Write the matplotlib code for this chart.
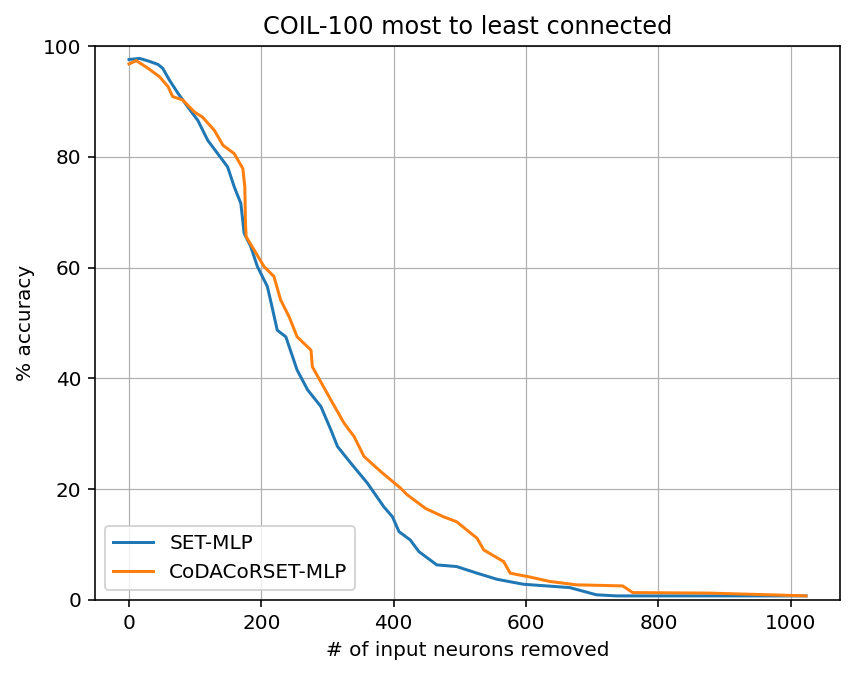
import matplotlib
matplotlib.use("Agg")
from matplotlib import pyplot as plt

# valores (neurónios removidos -> % accuracy)
set_x = [0, 16, 30, 44, 51, 61, 74, 89, 104, 119, 134, 149, 159, 169, 174, 184,
         194, 209, 215, 224, 237, 254, 270, 290, 305, 315, 335, 360, 385, 398, 408,
         425, 438, 465, 495, 526, 556, 596, 666, 706, 736, 967, 1023]
set_y = [97.6, 97.8, 97.3, 96.7, 96.0, 93.9, 91.5, 89.0, 86.6, 83.0, 80.6, 78.2,
         74.6, 71.6, 66.2, 63.8, 60.2, 56.6, 53.5, 48.7, 47.5, 41.5, 37.9, 34.9,
         30.7, 27.7, 24.7, 21.1, 16.8, 15.0, 12.3, 10.8, 8.7, 6.3, 6.0, 4.8, 3.7,
         2.8, 2.2, 0.9, 0.7, 0.7, 0.7]

coda_x = [0, 11, 29, 46, 59, 66, 81, 99, 111, 129, 142, 159, 172, 175, 176, 177,
          192, 204, 219, 229, 242, 254, 275, 277, 305, 325, 340, 355, 380, 410, 420,
          448, 475, 495, 526, 536, 566, 576, 606, 636, 676, 746, 761, 877, 967, 1023]
coda_y = [96.8, 97.4, 96.0, 94.5, 92.7, 90.9, 90.3, 88.1, 87.2, 84.8, 82.1, 80.6,
          77.9, 74.6, 68.0, 65.6, 62.6, 60.2, 58.4, 54.2, 51.1, 47.5, 45.1, 42.1,
          36.1, 31.9, 29.5, 25.9, 23.2, 20.2, 19.0, 16.5, 15.0, 14.1, 11.1, 9.0,
          6.9, 4.8, 4.1, 3.3, 2.7, 2.5, 1.3, 1.2, 0.9, 0.7]

fig, ax = plt.subplots(figsize=(865 / 144, 680 / 144), dpi=144)
fig.subplots_adjust(left=0.11, right=0.971, top=0.932, bottom=0.118)

ax.plot(set_x, set_y, color="#1f77b4", label="SET-MLP")
ax.plot(coda_x, coda_y, color="#ff7f0e", label="CoDACoRSET-MLP")

ax.set_title("COIL-100 most to least connected")
ax.set_xlabel("# of input neurons removed")
ax.set_ylabel("% accuracy")
ax.set_ylim(0, 100)
ax.grid(True, linewidth=0.6)
ax.legend(loc="lower left")

fig.savefig("out.png", dpi=144)
